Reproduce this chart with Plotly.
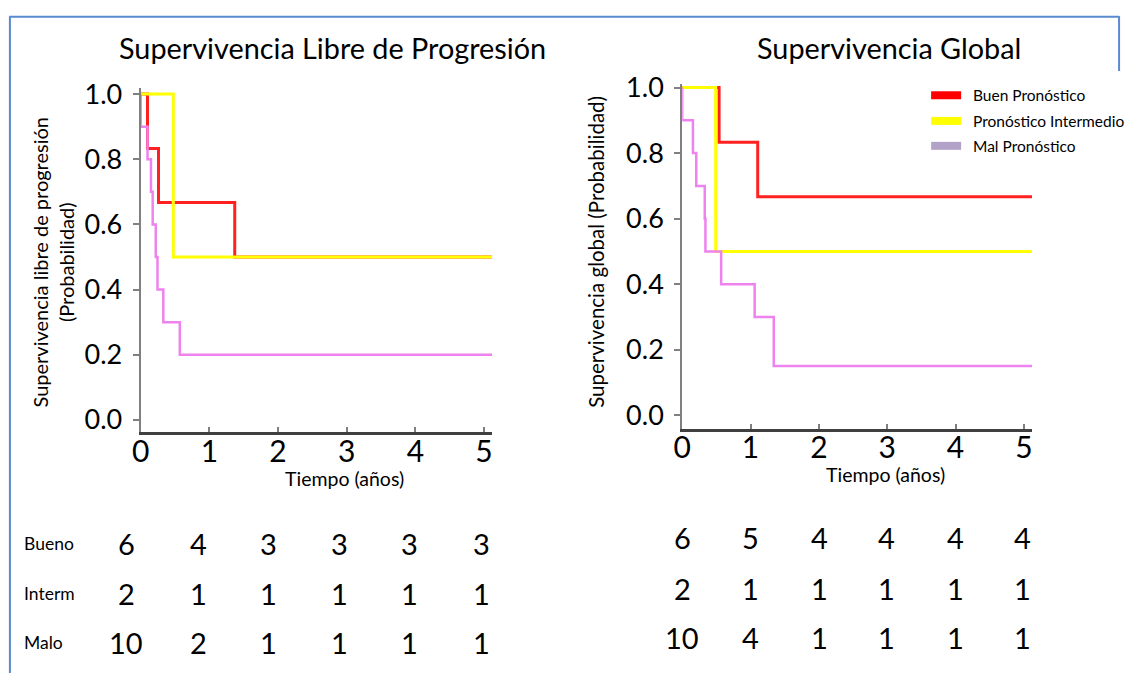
import plotly.graph_objects as go

W, H = 1126, 673

# ---------------- data ----------------
groups = ["Buen Pronóstico", "Pronóstico Intermedio", "Mal Pronóstico"]
row_labels = ["Bueno", "Interm", "Malo"]
tick_vals = [0, 1, 2, 3, 4, 5]
y_ticks = [0.0, 0.2, 0.4, 0.6, 0.8, 1.0]

# Progression-free survival (left)
pfs_bueno_t = [0, 0.10, 0.26, 1.37, 5.12]
pfs_bueno_s = [1.0, 0.833, 0.667, 0.5, 0.5]
pfs_interm_t = [0, 0.475, 5.12]
pfs_interm_s = [1.0, 0.5, 0.5]
pfs_malo_t = [0, 0, 0.10, 0.15, 0.175, 0.22, 0.245, 0.33, 0.57, 5.12]
pfs_malo_s = [1.0, 0.9, 0.8, 0.7, 0.6, 0.5, 0.4, 0.3, 0.2, 0.2]

# Overall survival (right)
os_bueno_t = [0, 0.54, 1.105, 5.12]
os_bueno_s = [1.0, 0.833, 0.667, 0.667]
os_interm_t = [0, 0.49, 5.12]
os_interm_s = [1.0, 0.5, 0.5]
os_malo_t = [0, 0, 0.157, 0.206, 0.33, 0.34, 0.57, 1.06, 1.34, 5.12]
os_malo_s = [1.0, 0.9, 0.8, 0.7, 0.6, 0.5, 0.4, 0.3, 0.15, 0.15]

# numbers at risk
pfs_risk_bueno = [6, 4, 3, 3, 3, 3]
pfs_risk_interm = [2, 1, 1, 1, 1, 1]
pfs_risk_malo = [10, 2, 1, 1, 1, 1]
os_risk_bueno = [6, 5, 4, 4, 4, 4]
os_risk_interm = [2, 1, 1, 1, 1, 1]
os_risk_malo = [10, 4, 1, 1, 1, 1]

# ---------------- style ----------------
FONT = "Lato"
line_colors = ["#ff2020", "#ffff00", "#ee82ee"]
legend_colors = ["#ff0000", "#ffff00", "#b3a2c7"]
line_widths = [3, 3, 2.5]

# page-pixel -> paper conversion (compensates for how the page is photographed)
def px(x):
    return ((x - 7.6) / 0.9923) / W

def py(y):
    return 1 - ((y - 12.86) / 0.9769) / H

fig = go.Figure()

left = [(pfs_bueno_t, pfs_bueno_s), (pfs_interm_t, pfs_interm_s), (pfs_malo_t, pfs_malo_s)]
right = [(os_bueno_t, os_bueno_s), (os_interm_t, os_interm_s), (os_malo_t, os_malo_s)]

for i, (t, s) in enumerate(left):
    fig.add_trace(go.Scatter(x=t, y=s, mode="lines", line=dict(color=line_colors[i], width=line_widths[i], shape="hv"),
                             xaxis="x", yaxis="y", showlegend=False, name=groups[i]))
for i, (t, s) in enumerate(right):
    fig.add_trace(go.Scatter(x=t, y=s, mode="lines", line=dict(color=line_colors[i], width=line_widths[i], shape="hv"),
                             xaxis="x2", yaxis="y2", showlegend=False, name=groups[i]))

xcommon = dict(range=[0, 5.12], tickvals=tick_vals, ticktext=[str(v) for v in tick_vals],
               showline=True, linecolor="#404040", linewidth=2.5, ticks="inside", ticklen=5,
               tickcolor="#808080", tickwidth=1.5, showgrid=False, zeroline=False,
               tickfont=dict(family=FONT, size=30, color="#000"), ticklabelstandoff=-9, title=None)
ycommon = dict(tickvals=y_ticks, ticktext=[f"{v:.1f}" for v in y_ticks],
               showline=True, linecolor="#808080", linewidth=2, ticks="outside", ticklen=6,
               tickcolor="#808080", tickwidth=1.5, showgrid=False, zeroline=False,
               tickfont=dict(family=FONT, size=27, color="#000"), ticklabelstandoff=5, title=None)

fig.update_layout(
    width=W, height=H, margin=dict(l=0, r=0, t=0, b=0), autosize=False,
    paper_bgcolor="white", plot_bgcolor="white", showlegend=False,
    xaxis=dict(domain=[px(139.3), px(491)], anchor="y", **xcommon),
    yaxis=dict(domain=[py(431.7), py(86.6)], range=[-0.037, 1.02], anchor="x", **ycommon),
    xaxis2=dict(domain=[px(681), px(1031)], anchor="y2", **xcommon),
    yaxis2=dict(domain=[py(428.3), py(83)], range=[-0.0405, 1.011], anchor="x2", **ycommon),
)

ann = []
# titles
ann.append(dict(text="Supervivencia Libre de Progresión", x=px(331), y=py(47), xref="paper", yref="paper",
                showarrow=False, font=dict(family=FONT, size=28.8, color="#000"), xanchor="center", yanchor="middle"))
ann.append(dict(text="Supervivencia Global", x=px(888), y=py(47), xref="paper", yref="paper",
                showarrow=False, font=dict(family=FONT, size=28.8, color="#000"), xanchor="center", yanchor="middle"))
# axis titles
for xc, yc in ((343, 478), (884, 474)):
    ann.append(dict(text="Tiempo (años)", x=px(xc), y=py(yc), xref="paper", yref="paper",
                    showarrow=False, font=dict(family=FONT, size=19.5, color="#000"), xanchor="center", yanchor="middle"))
ann.append(dict(text="Supervivencia libre de progresión<br>(Probabilidad)", x=px(51.5), y=py(262), xref="paper", yref="paper",
                showarrow=False, textangle=-90, font=dict(family=FONT, size=20, color="#000"),
                xanchor="center", yanchor="middle"))
ann.append(dict(text="Supervivencia global (Probabilidad)", x=px(594), y=py(251), xref="paper", yref="paper",
                showarrow=False, textangle=-90, font=dict(family=FONT, size=20.5, color="#000"),
                xanchor="center", yanchor="middle"))

# legend (manual)
shapes = []
leg_y = [94.3, 120, 145]
for i, g in enumerate(groups):
    shapes.append(dict(type="rect", xref="paper", yref="paper", x0=px(930), x1=px(960),
                       y0=py(leg_y[i] + 4), y1=py(leg_y[i] - 4), fillcolor=legend_colors[i], line=dict(width=0)))
    ann.append(dict(text=g, x=px(970), y=py(leg_y[i]), xref="paper", yref="paper", showarrow=False,
                    font=dict(family=FONT, size=15.5, color="#000"), xanchor="left", yanchor="middle"))

# at-risk tables
row_y = [544, 594, 643]
left_cols = [125, 197, 267, 338, 408, 480]
right_cols = [681, 749, 818, 885, 954, 1021]
pfs_rows = [pfs_risk_bueno, pfs_risk_interm, pfs_risk_malo]
os_rows = [os_risk_bueno, os_risk_interm, os_risk_malo]
os_row_y = [538, 589, 638]
for r in range(3):
    ann.append(dict(text=row_labels[r], x=px(21), y=py(row_y[r]), xref="paper", yref="paper", showarrow=False,
                    font=dict(family=FONT, size=17.5, color="#000"), xanchor="left", yanchor="middle"))
    for c in range(6):
        ann.append(dict(text=str(pfs_rows[r][c]), x=px(left_cols[c]), y=py(row_y[r]), xref="paper", yref="paper",
                        showarrow=False, font=dict(family=FONT, size=29, color="#000"), xanchor="center", yanchor="middle"))
        ann.append(dict(text=str(os_rows[r][c]), x=px(right_cols[c]), y=py(os_row_y[r]), xref="paper", yref="paper",
                        showarrow=False, font=dict(family=FONT, size=29, color="#000"), xanchor="center", yanchor="middle"))

# frame border
bc = "#5a8ad0"
shapes.append(dict(type="line", xref="paper", yref="paper", x0=px(8), x1=px(1118), y0=py(15.5), y1=py(15.5), line=dict(color=bc, width=2)))
shapes.append(dict(type="line", xref="paper", yref="paper", x0=px(8.5), x1=px(8.5), y0=py(15), y1=py(675), line=dict(color=bc, width=2)))
shapes.append(dict(type="line", xref="paper", yref="paper", x0=px(1118), x1=px(1118), y0=py(15), y1=py(70), line=dict(color=bc, width=2)))

fig.update_layout(annotations=ann, shapes=shapes)
fig.write_html("out.html")
